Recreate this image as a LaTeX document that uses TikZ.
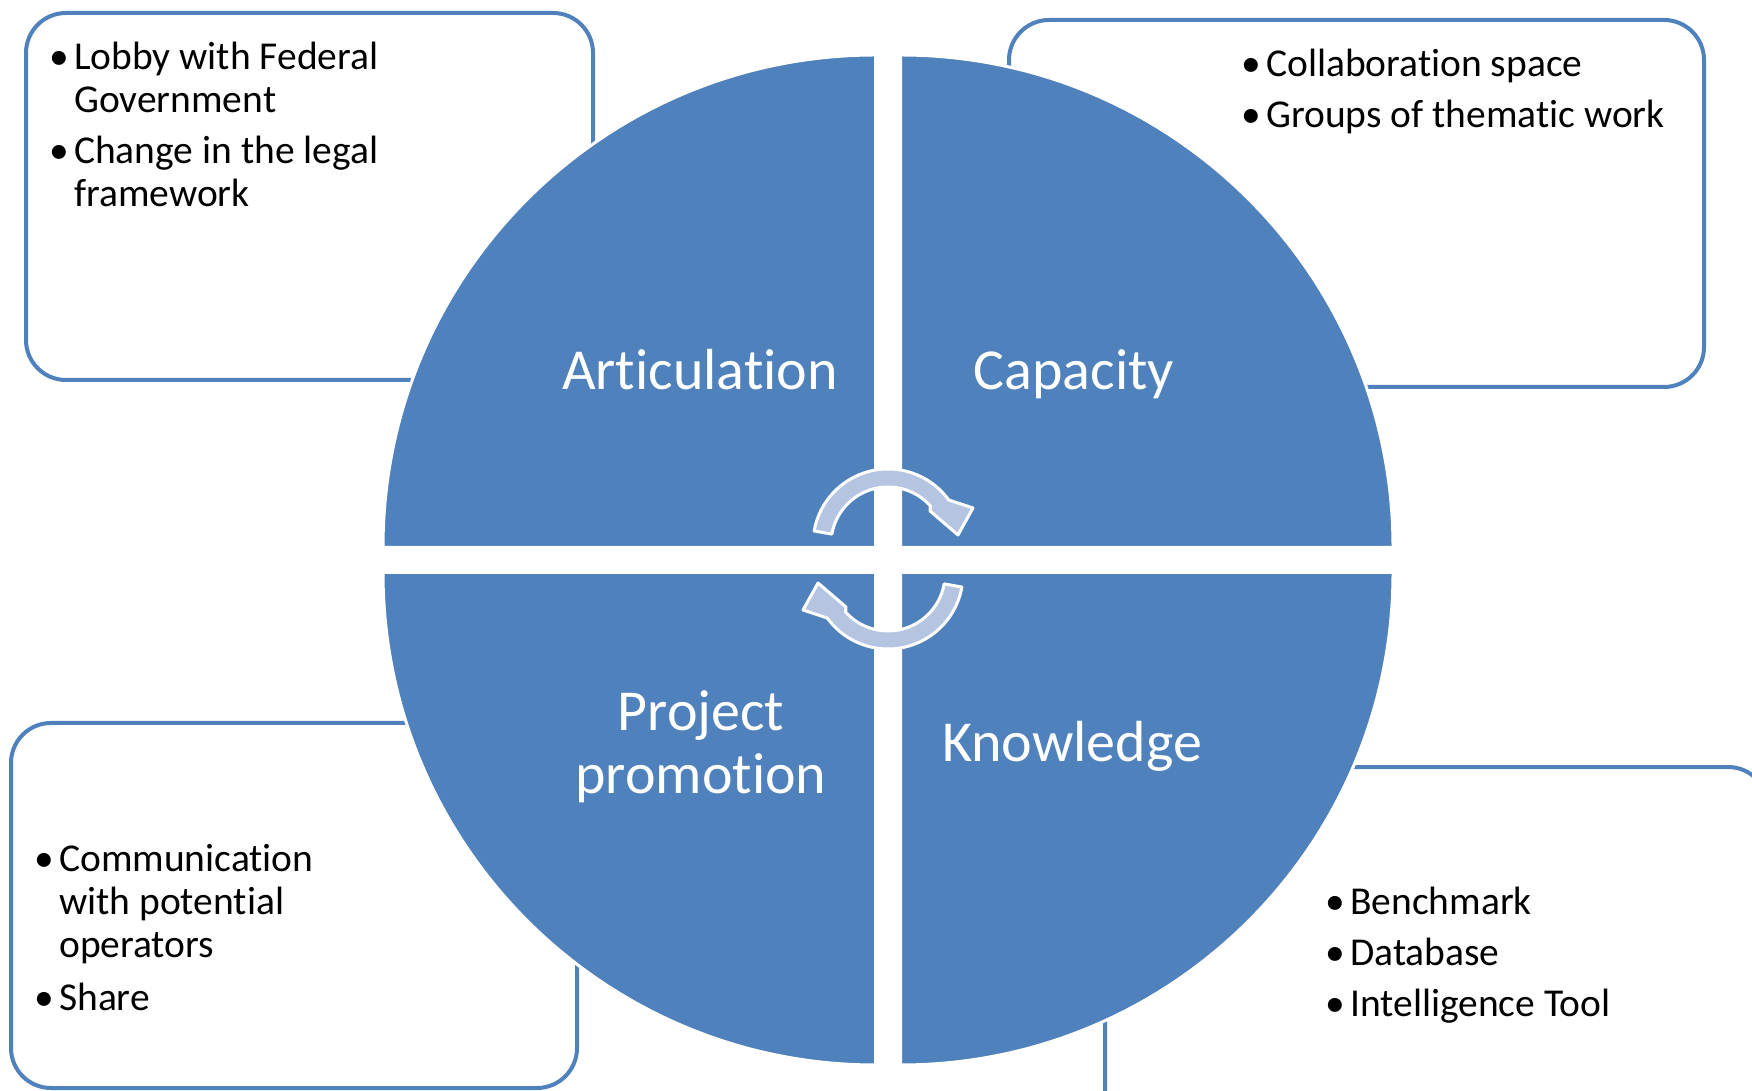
\documentclass[tikz,border=0pt]{standalone}
\usepackage{fontspec}
\setmainfont{Carlito}[Ligatures={NoCommon,NoContextual},Contextuals=NoAlternate]
\definecolor{qblue}{RGB}{79,129,189}
\definecolor{arrowfill}{RGB}{181,196,224}
\newcommand\bitem[1]{\makebox[21pt][l]{\hspace*{-4pt}\textbullet}\begin{tabular}[t]{@{}l@{}}#1\end{tabular}}
\begin{document}
\begin{tikzpicture}[x=1pt,y=1pt,
  box/.style={draw=qblue, line width=4pt, fill=white, rounded corners=40pt},
  quad/.style={fill=qblue, draw=white, line width=3pt},
  cyc/.style={fill=arrowfill, draw=white, line width=3pt, line join=round},
  item/.style={anchor=base west, inner sep=0pt, font=\fontsize{39.5}{43}\selectfont, text=black},
  lab/.style={anchor=base, inner sep=0pt, font=\fontsize{58}{63}\selectfont, text=white}]
\clip (0,0) rectangle (1752,1090);
\fill[white] (0,0) rectangle (1752,1090);
% side boxes
\draw[box] (26,710) rectangle (593,1077);
\draw[box] (1009,703) rectangle (1704,1070);
\draw[box] (11,2) rectangle (577,367);
\draw[box] (1105,-40) rectangle (1768,323);
% quadrants
\path[quad] (875.5,542.5) -- (383,542.5) arc[start angle=180,end angle=90,radius=492.5] -- cycle;
\path[quad] (900.5,542.5) -- (900.5,1035) arc[start angle=90,end angle=0,radius=492.5] -- cycle;
\path[quad] (900.5,517.5) -- (1393,517.5) arc[start angle=0,end angle=-90,radius=492.5] -- cycle;
\path[quad] (875.5,517.5) -- (875.5,25) arc[start angle=270,end angle=180,radius=492.5] -- cycle;
% circular arrows
\begin{scope}[shift={(888,546)}]
\path[cyc] (170:75) arc[start angle=170,end angle=36,radius=75] -- (85,36) -- (70,9) -- (42,33) -- (42:57) arc[start angle=42,end angle=170,radius=57] -- cycle;
\end{scope}
\begin{scope}[shift={(888,516)},rotate=180]
\path[cyc] (170:75) arc[start angle=170,end angle=36,radius=75] -- (85,36) -- (70,9) -- (42,33) -- (42:57) arc[start angle=42,end angle=170,radius=57] -- cycle;
\end{scope}
% quadrant labels
\node[lab] (art) at (700,700.7) {Articulation};
\node[lab] (cap) at (1074,700) {Capacity};
\node[lab] (pro) at (701,359) {\begin{tabular}[t]{@{}c@{}}Project\\promotion\end{tabular}};
\node[lab] (kno) at (1072,328.3) {Knowledge};
% box texts
\node[item] (tl1) at (53,1020) {\bitem{Lobby with Federal\\Government}};
\node[item] (tl2) at (53,926) {\bitem{Change in the legal\\framework}};
\node[item] (tr1) at (1245,1013) {\bitem{Collaboration space}};
\node[item] (tr2) at (1245,962) {\bitem{Groups of thematic work}};
\node[item] (bl1) at (38,218.3) {\bitem{Communication\\with potential\\operators}};
\node[item] (bl2) at (38,80) {\bitem{Share}};
\node[item] (br1) at (1329,176) {\bitem{Benchmark}};
\node[item] (br2) at (1329,125) {\bitem{Database}};
\node[item] (br3) at (1329,74) {\bitem{Intelligence Tool}};
\end{tikzpicture}
\end{document}
